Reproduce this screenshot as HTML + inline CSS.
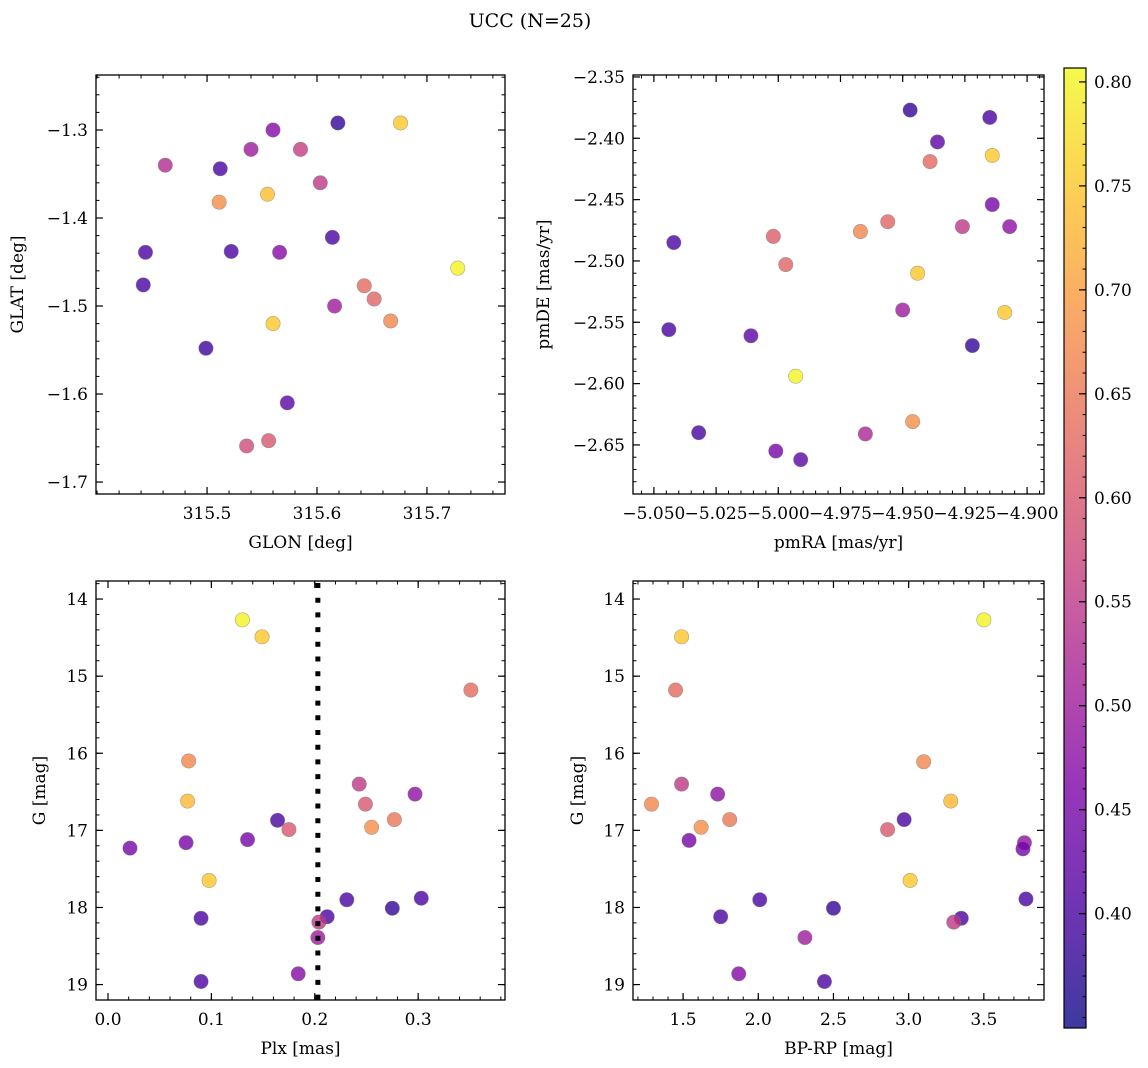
<!DOCTYPE html>
<html><head><meta charset="utf-8"><style>
body{margin:0;background:#fff;}
svg{display:block;font-family:"DejaVu Serif","Liberation Serif",serif;}
</style></head><body>
<svg id="fig" width="1148" height="1068" xmlns="http://www.w3.org/2000/svg">
<rect width="1148" height="1068" fill="#fff"/>
<text x="530" y="27" font-size="19" text-anchor="middle">UCC (N=25)</text>
</svg>
<script>
// Panel 1: GLON vs GLAT
const glon = [315.619,315.676,315.560,315.462,315.540,315.585,315.512,315.603,315.555,315.511,315.444,315.522,315.566,315.614,315.728,315.442,315.643,315.652,315.616,315.667,315.560,315.499,315.573,315.556,315.536];
const glat = [-1.292,-1.292,-1.300,-1.340,-1.322,-1.322,-1.344,-1.360,-1.373,-1.382,-1.439,-1.438,-1.439,-1.422,-1.457,-1.476,-1.477,-1.492,-1.500,-1.517,-1.520,-1.548,-1.610,-1.653,-1.659];
const prob1 = [0.38,0.75,0.47,0.53,0.50,0.56,0.40,0.55,0.74,0.68,0.40,0.40,0.47,0.40,0.80,0.40,0.63,0.62,0.50,0.67,0.75,0.39,0.42,0.60,0.58];
// Panel 2: pmRA vs pmDE
const pmra = [-4.947,-4.915,-4.936,-4.914,-4.939,-4.914,-4.907,-4.926,-4.956,-4.967,-5.042,-5.002,-4.997,-4.944,-4.950,-4.909,-5.044,-5.011,-4.922,-4.993,-4.946,-5.032,-4.965,-5.001,-4.991];
const pmde = [-2.377,-2.383,-2.403,-2.414,-2.419,-2.454,-2.472,-2.472,-2.468,-2.476,-2.485,-2.480,-2.503,-2.510,-2.540,-2.542,-2.556,-2.561,-2.569,-2.594,-2.631,-2.640,-2.641,-2.655,-2.662];
const prob2 = [0.38,0.40,0.42,0.75,0.63,0.45,0.48,0.55,0.62,0.67,0.40,0.61,0.62,0.75,0.50,0.75,0.40,0.42,0.38,0.80,0.68,0.40,0.52,0.45,0.42];
// Panel 3: Plx vs G
const plx = [0.130,0.149,0.351,0.078,0.243,0.077,0.297,0.249,0.164,0.277,0.135,0.175,0.255,0.0755,0.0213,0.0978,0.231,0.303,0.275,0.212,0.090,0.204,0.203,0.184,0.090];
const gmag3 = [14.27,14.49,15.18,16.10,16.40,16.62,16.53,16.66,16.87,16.86,17.12,16.99,16.96,17.16,17.23,17.65,17.90,17.88,18.01,18.12,18.14,18.19,18.39,18.86,18.96];
const prob3 = [0.80,0.75,0.63,0.67,0.55,0.73,0.48,0.60,0.40,0.65,0.45,0.60,0.68,0.45,0.45,0.75,0.40,0.40,0.38,0.40,0.40,0.55,0.50,0.47,0.40];
const plxLine = 0.203;
// Panel 4: BP-RP vs G
const bprp = [3.50,3.10,3.28,2.97,2.86,3.77,3.76,3.01,3.78,3.35,3.30,1.49,1.45,1.49,1.29,1.73,1.62,1.54,1.81,2.01,1.75,2.50,2.31,1.87,2.44];
const gmag4 = [14.27,16.11,16.62,16.86,16.99,17.16,17.24,17.65,17.89,18.14,18.19,14.49,15.18,16.40,16.66,16.53,16.96,17.13,16.86,17.90,18.12,18.01,18.39,18.86,18.96];
const prob4 = [0.80,0.67,0.73,0.40,0.60,0.48,0.45,0.75,0.40,0.40,0.55,0.75,0.63,0.55,0.67,0.48,0.68,0.45,0.65,0.40,0.40,0.38,0.50,0.47,0.40];
// tick labels
const ticks1x = [315.5,315.6,315.7], ticks1y = [-1.3,-1.4,-1.5,-1.6,-1.7];
const ticks2x = [-5.050,-5.025,-5.000,-4.975,-4.950,-4.925,-4.900], ticks2y = [-2.35,-2.40,-2.45,-2.50,-2.55,-2.60,-2.65];
const ticks3x = [0.0,0.1,0.2,0.3], ticksG = [14,15,16,17,18,19];
const ticks4x = [1.5,2.0,2.5,3.0,3.5];
const cbTicks = [0.40,0.45,0.50,0.55,0.60,0.65,0.70,0.75,0.80];

const NS="http://www.w3.org/2000/svg";
const FS=17;
const svg=document.getElementById('fig');
function mk(tag,attrs,parent){const e=document.createElementNS(NS,tag);for(const k in attrs)e.setAttribute(k,attrs[k]);(parent||svg).appendChild(e);return e;}
const stops=[[0,13,8,135],[0.125,76,2,161],[0.25,126,3,168],[0.375,169,35,149],[0.5,204,71,120],[0.625,229,107,93],[0.75,248,149,64],[0.875,253,197,39],[1,240,249,33]];
function plasma(t){t=Math.max(0,Math.min(1,t));for(let i=1;i<stops.length;i++){if(t<=stops[i][0]){const a=stops[i-1],b=stops[i],f=(t-a[0])/(b[0]-a[0]);return `rgb(${Math.round(a[1]+f*(b[1]-a[1]))},${Math.round(a[2]+f*(b[2]-a[2]))},${Math.round(a[3]+f*(b[3]-a[3]))})`;}}return 'rgb(240,249,33)';}
const cmin=0.345,cmax=0.8067;
function cnorm(v){return (v-cmin)/(cmax-cmin);}
function fmt(v,d){const s=Math.abs(v).toFixed(d);return (v<0&&Math.abs(v)>1e-9?'\u2212':'')+s;}

function panel(cfg){
  const g=mk('g',{});
  
  
  const L=cfg.left,R=cfg.right,T=cfg.top,B=cfg.bottom,xd=cfg.xd,yd=cfg.yd;
  const sx=v=>L+(v-xd[0])/(xd[1]-xd[0])*(R-L);
  const sy=v=>T+(v-yd[0])/(yd[1]-yd[0])*(B-T);
  for(let i=0;i<cfg.xs.length;i++){
    const c=mk('circle',{cx:sx(cfg.xs[i]),cy:sy(cfg.ys[i]),r:7.2,fill:plasma(cnorm(cfg.cs[i])),'fill-opacity':0.8,stroke:'#777','stroke-opacity':0.6,'stroke-width':0.6},g);
    
    
  }
  if(cfg.vline!==undefined){const l=mk('line',{x1:sx(cfg.vline),x2:sx(cfg.vline),y1:T+2,y2:B,stroke:'#000','stroke-width':5,'stroke-dasharray':'5 9.7'},g);
    
    }
  const eps=1e-9;
  const lo=Math.min(...xd),hi=Math.max(...xd);
  for(let k=Math.ceil(lo/cfg.xminor-eps);k*cfg.xminor<=hi+eps;k++){const X=sx(k*cfg.xminor);mk('line',{x1:X,x2:X,y1:B,y2:B-3.5,stroke:'#000','stroke-width':1},g);mk('line',{x1:X,x2:X,y1:T,y2:T+3.5,stroke:'#000','stroke-width':1},g);}
  const ylo=Math.min(...yd),yhi=Math.max(...yd);
  for(let k=Math.ceil(ylo/cfg.yminor-eps);k*cfg.yminor<=yhi+eps;k++){const Y=sy(k*cfg.yminor);mk('line',{y1:Y,y2:Y,x1:L,x2:L+3.5,stroke:'#000','stroke-width':1},g);mk('line',{y1:Y,y2:Y,x1:R,x2:R-3.5,stroke:'#000','stroke-width':1},g);}
  cfg.xt.forEach(v=>{const X=sx(v);mk('line',{x1:X,x2:X,y1:B,y2:B-7,stroke:'#000','stroke-width':1.2},g);mk('line',{x1:X,x2:X,y1:T,y2:T+7,stroke:'#000','stroke-width':1.2},g);
    const t=mk('text',{x:X,y:B+25,'font-size':FS,'text-anchor':'middle'},g);t.textContent=fmt(v,cfg.xdec);
    
    });
  cfg.yt.forEach(v=>{const Y=sy(v);mk('line',{y1:Y,y2:Y,x1:L,x2:L+7,stroke:'#000','stroke-width':1.2},g);mk('line',{y1:Y,y2:Y,x1:R,x2:R-7,stroke:'#000','stroke-width':1.2},g);
    const t=mk('text',{x:L-8,y:Y+6,'font-size':FS,'text-anchor':'end'},g);t.textContent=fmt(v,cfg.ydec);
    
    });
  const fr=mk('rect',{x:L,y:T,width:R-L,height:B-T,fill:'none',stroke:'#000','stroke-width':1.3},g);
  
  
  const xl=mk('text',{x:(L+R)/2,y:B+54,'font-size':FS,'text-anchor':'middle'},g);xl.textContent=cfg.xlabel;
  
  
  const yl=mk('text',{x:0,y:0,'font-size':FS,'text-anchor':'middle',transform:`translate(${cfg.ylx},${(T+B)/2}) rotate(-90)`},g);yl.textContent=cfg.ylabel;
  
  
}
panel({name:'glon-glat-panel',left:96,right:505,top:75,bottom:494,xd:[315.399,315.771],yd:[-1.2375,-1.7136],xs:glon,ys:glat,cs:prob1,xt:ticks1x,yt:ticks1y,xminor:0.02,yminor:0.02,xdec:1,ydec:1,xlabel:'GLON [deg]',ylabel:'GLAT [deg]',ylx:23});
panel({name:'pmra-pmde-panel',left:633,right:1044,top:75,bottom:494,xd:[-5.0584,-4.8932],yd:[-2.3484,-2.690],xs:pmra,ys:pmde,cs:prob2,xt:ticks2x,yt:ticks2y,xminor:0.005,yminor:0.01,xdec:3,ydec:2,xlabel:'pmRA [mas/yr]',ylabel:'pmDE [mas/yr]',ylx:549});
panel({name:'plx-g-panel',left:96,right:505,top:581,bottom:1000,xd:[-0.0116,0.384],yd:[13.766,19.2],xs:plx,ys:gmag3,cs:prob3,xt:ticks3x,yt:ticksG,xminor:0.02,yminor:0.2,xdec:1,ydec:0,xlabel:'Plx [mas]',ylabel:'G [mag]',ylx:45,vline:plxLine});
panel({name:'bprp-g-panel',left:633,right:1044,top:581,bottom:1000,xd:[1.167,3.9],yd:[13.766,19.2],xs:bprp,ys:gmag4,cs:prob4,xt:ticks4x,yt:ticksG,xminor:0.1,yminor:0.2,xdec:1,ydec:0,xlabel:'BP-RP [mag]',ylabel:'G [mag]',ylx:583});

// colorbar
(function(){
  const L=1064,R=1086,T=68,B=1028;
  const g=mk('g',{});
  
  
  const defs=mk('defs',{},g);
  const lg=mk('linearGradient',{id:'cbg',x1:0,y1:1,x2:0,y2:0},defs);
  for(let i=0;i<=20;i++){const f=i/20;const v=cmin+f*(cmax-cmin);mk('stop',{offset:f,'stop-color':plasma(cnorm(v)),'stop-opacity':0.8},lg);}
  const r=mk('rect',{x:L,y:T,width:R-L,height:B-T,fill:'url(#cbg)',stroke:'#000','stroke-width':1.2},g);
  
  
  const sy=v=>B-(v-cmin)/(cmax-cmin)*(B-T);
  for(let k=Math.ceil(cmin/0.01);k*0.01<=cmax;k++){const Y=sy(k*0.01);mk('line',{x1:R,x2:R-3.5,y1:Y,y2:Y,stroke:'#000','stroke-width':1},g);}
  cbTicks.forEach(v=>{const Y=sy(v);mk('line',{x1:R,x2:R-7,y1:Y,y2:Y,stroke:'#000','stroke-width':1.2},g);
    const t=mk('text',{x:R+8,y:Y+6,'font-size':FS},g);t.textContent=v.toFixed(2);
    
    });
})();
</script>
</body></html>
